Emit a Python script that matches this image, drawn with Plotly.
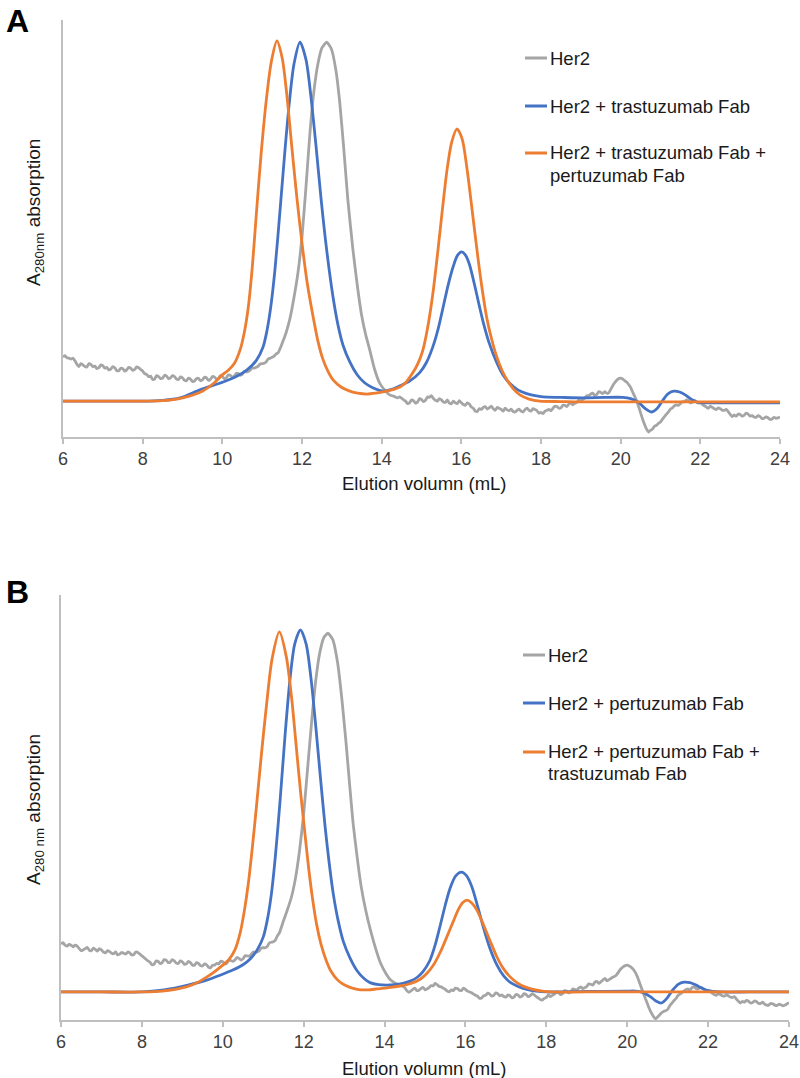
import plotly.graph_objects as go

# ---------------- data ----------------
X_TICKS = [6, 8, 10, 12, 14, 16, 18, 20, 22, 24]
X_TITLE = "Elution volumn (mL)"
Y_TITLE_A = "A<sub>280nm</sub> absorption"
Y_TITLE_B = "A<sub>280 nm</sub> absorption"

NAMES_A = ["Her2", "Her2 + trastuzumab Fab", "Her2 + trastuzumab Fab +", "pertuzumab Fab"]
NAMES_B = ["Her2", "Her2 + pertuzumab Fab", "Her2 + pertuzumab Fab +", "trastuzumab Fab"]

# Panel A ---------------------------------------------------------
gray_a = [(6.0, 19.2), (6.05, 19.5), (6.1, 19.0), (6.15, 18.9), (6.2, 18.7), (6.25, 18.9), (6.3, 18.3),
          (6.35, 17.4), (6.4, 16.9), (6.45, 17.6), (6.5, 17.3), (6.55, 16.9), (6.6, 16.8), (6.65, 17.6),
          (6.7, 17.4), (6.75, 16.9), (6.8, 17.0), (6.85, 16.4), (6.9, 16.6), (6.95, 17.3), (7.0, 17.1),
          (7.05, 16.5), (7.1, 16.7), (7.15, 16.1), (7.2, 16.3), (7.25, 16.9), (7.3, 16.6), (7.35, 15.9),
          (7.4, 15.9), (7.45, 16.5), (7.5, 16.4), (7.55, 15.8), (7.6, 16.1), (7.65, 16.7), (7.7, 16.5),
          (7.75, 16.0), (7.8, 16.2), (7.85, 16.8), (7.9, 16.6), (7.95, 16.2), (8.0, 15.8), (8.05, 15.2),
          (8.1, 15.0), (8.15, 14.5), (8.2, 14.6), (8.25, 13.8), (8.3, 13.9), (8.35, 14.7), (8.4, 14.5),
          (8.45, 14.0), (8.5, 14.1), (8.55, 14.8), (8.6, 14.6), (8.65, 14.0), (8.7, 14.2), (8.75, 14.7),
          (8.8, 14.5), (8.85, 13.9), (8.9, 13.8), (8.95, 14.4), (9.0, 14.2), (9.05, 13.6), (9.1, 13.5),
          (9.15, 14.1), (9.2, 13.9), (9.25, 13.3), (9.3, 13.4), (9.35, 14.0), (9.4, 14.1), (9.45, 13.5),
          (9.5, 13.7), (9.55, 14.3), (9.6, 14.2), (9.65, 13.6), (9.7, 13.8), (9.75, 14.5), (9.8, 14.4),
          (9.85, 13.9), (9.9, 14.0), (9.95, 14.7), (10.0, 14.5), (10.05, 14.0), (10.1, 14.2),
          (10.15, 14.9), (10.2, 14.8), (10.25, 14.3), (10.3, 14.6), (10.35, 15.3), (10.4, 15.2),
          (10.45, 14.8), (10.5, 15.0), (10.55, 15.7), (10.6, 15.6), (10.65, 15.7), (10.7, 16.0),
          (10.75, 16.6), (10.8, 16.5), (10.85, 16.7), (10.9, 17.0), (10.95, 17.5), (11.0, 17.6),
          (11.05, 17.7), (11.1, 18.0), (11.15, 18.7), (11.2, 18.9), (11.25, 19.1), (11.3, 19.4),
          (11.35, 19.9), (11.4, 20.2), (11.5, 22.4), (11.6, 25.0), (11.7, 28.5), (11.8, 33.5),
          (11.9, 39.5), (12.0, 48.0), (12.1, 60.0), (12.2, 73.0), (12.3, 83.0), (12.4, 89.5),
          (12.5, 93.3), (12.62, 94.7), (12.74, 93.0), (12.85, 88.0), (12.95, 80.0), (13.05, 69.0),
          (13.15, 57.0), (13.28, 44.8), (13.4, 35.5), (13.5, 29.0), (13.6, 24.5), (13.7, 20.9),
          (13.82, 16.3), (13.95, 12.9), (14.08, 11.2), (14.2, 10.1), (14.3, 9.8), (14.4, 9.4),
          (14.45, 9.6), (14.5, 9.3), (14.55, 8.9), (14.6, 8.6), (14.65, 8.0), (14.7, 8.2), (14.75, 8.9),
          (14.8, 8.7), (14.85, 8.1), (14.9, 8.4), (14.95, 9.2), (15.0, 9.0), (15.05, 8.5), (15.1, 8.8),
          (15.15, 9.6), (15.2, 9.5), (15.25, 9.9), (15.3, 9.2), (15.35, 8.8), (15.4, 8.6), (15.45, 9.2),
          (15.5, 8.9), (15.55, 8.4), (15.6, 8.3), (15.65, 8.9), (15.7, 8.1), (15.75, 8.0), (15.8, 8.6),
          (15.85, 8.2), (15.9, 8.0), (15.95, 8.7), (16.0, 8.2), (16.05, 7.8), (16.1, 7.6), (16.15, 8.2),
          (16.2, 7.9), (16.25, 7.2), (16.3, 6.9), (16.35, 6.2), (16.4, 6.1), (16.45, 6.8), (16.5, 6.6),
          (16.55, 7.1), (16.6, 7.3), (16.65, 6.7), (16.7, 7.0), (16.75, 7.4), (16.8, 6.8), (16.85, 6.4),
          (16.9, 7.1), (16.95, 6.9), (17.0, 6.6), (17.05, 6.2), (17.1, 6.9), (17.15, 6.5), (17.2, 6.3),
          (17.25, 6.7), (17.3, 6.1), (17.35, 6.0), (17.4, 6.4), (17.45, 6.7), (17.5, 6.2), (17.55, 6.0),
          (17.6, 6.6), (17.65, 6.9), (17.7, 6.4), (17.75, 6.2), (17.8, 6.8), (17.85, 6.6), (17.9, 6.3),
          (17.95, 5.7), (18.0, 5.9), (18.05, 5.6), (18.1, 6.2), (18.15, 6.4), (18.2, 6.6), (18.25, 6.3),
          (18.3, 6.9), (18.35, 7.4), (18.4, 7.3), (18.45, 6.9), (18.5, 7.0), (18.55, 7.6), (18.6, 7.6),
          (18.65, 7.3), (18.7, 7.9), (18.75, 8.2), (18.8, 7.7), (18.85, 8.1), (18.9, 8.3), (18.95, 8.9),
          (19.0, 8.6), (19.05, 9.0), (19.1, 9.3), (19.15, 9.9), (19.2, 9.9), (19.25, 10.3), (19.3, 10.5),
          (19.35, 10.0), (19.4, 10.2), (19.45, 10.9), (19.5, 10.7), (19.55, 10.4), (19.6, 10.9),
          (19.65, 10.5), (19.7, 10.6), (19.75, 11.4), (19.8, 12.3), (19.85, 13.0), (19.9, 13.6),
          (19.95, 14.0), (20.0, 14.1), (20.05, 13.9), (20.1, 13.5), (20.15, 13.2), (20.2, 12.6),
          (20.25, 11.9), (20.3, 10.8), (20.35, 9.8), (20.4, 8.7), (20.45, 7.3), (20.5, 5.8), (20.55, 4.3),
          (20.6, 3.0), (20.65, 1.9), (20.7, 1.2), (20.75, 1.6), (20.8, 1.9), (20.85, 2.6), (20.9, 2.8),
          (20.95, 3.3), (21.0, 3.6), (21.05, 4.3), (21.1, 4.9), (21.15, 5.5), (21.2, 6.0), (21.25, 6.7),
          (21.3, 7.0), (21.35, 7.5), (21.4, 7.7), (21.45, 7.6), (21.5, 8.0), (21.55, 8.5), (21.6, 8.4),
          (21.65, 8.9), (21.7, 8.7), (21.75, 8.2), (21.8, 8.3), (21.85, 8.8), (21.9, 8.5), (21.95, 8.1),
          (22.0, 8.2), (22.05, 7.8), (22.1, 7.5), (22.15, 7.2), (22.2, 6.9), (22.25, 7.4), (22.3, 7.1),
          (22.35, 6.8), (22.4, 6.6), (22.45, 7.0), (22.5, 6.8), (22.55, 6.4), (22.6, 6.4), (22.65, 6.6),
          (22.7, 6.1), (22.75, 5.4), (22.8, 4.9), (22.85, 5.3), (22.9, 5.0), (22.95, 5.5), (23.0, 5.4),
          (23.05, 5.0), (23.1, 5.2), (23.15, 5.7), (23.2, 5.5), (23.25, 5.0), (23.3, 5.1), (23.35, 4.8),
          (23.4, 4.7), (23.45, 5.1), (23.5, 4.9), (23.55, 4.4), (23.6, 4.5), (23.65, 4.8), (23.7, 4.6),
          (23.75, 4.2), (23.8, 4.3), (23.85, 4.7), (23.9, 4.5), (23.95, 4.6), (24.0, 4.8)]

blue_a = [(6.0, 8.6), (7.0, 8.6), (8.0, 8.6), (8.5, 8.8), (8.94, 9.4), (9.44, 11.3), (10.02, 13.2),
          (10.35, 14.5), (10.62, 16.1), (10.85, 18.3), (11.02, 21.5), (11.12, 25.5), (11.22, 31.5),
          (11.32, 40.0), (11.45, 54.5), (11.57, 68.5), (11.68, 80.0), (11.8, 89.5), (11.95, 94.7),
          (12.1, 90.5), (12.22, 82.0), (12.35, 70.0), (12.48, 57.0), (12.62, 44.8), (12.78, 33.5),
          (12.9, 27.0), (13.03, 22.0), (13.2, 18.0), (13.38, 15.0), (13.55, 13.2), (13.7, 12.2),
          (13.85, 11.5), (14.03, 11.0), (14.25, 11.4), (14.46, 12.3), (14.7, 13.4), (14.96, 15.5),
          (15.12, 17.8), (15.28, 21.5), (15.42, 26.0), (15.54, 31.0), (15.67, 36.5), (15.8, 41.0),
          (15.9, 43.5), (16.0, 44.4), (16.1, 43.7), (16.2, 41.5), (16.32, 37.0), (16.45, 31.5),
          (16.55, 27.5), (16.7, 22.5), (16.89, 17.8), (17.05, 14.8), (17.22, 12.8), (17.42, 11.3),
          (17.64, 10.4), (17.85, 9.9), (18.05, 9.6), (18.5, 9.5), (19.05, 9.4), (19.6, 9.5),
          (20.05, 9.5), (20.25, 9.2), (20.45, 8.3), (20.62, 6.8), (20.78, 6.0), (20.92, 6.9),
          (21.05, 8.7), (21.18, 10.3), (21.33, 11.0), (21.48, 10.8), (21.62, 10.1), (21.76, 9.1),
          (21.9, 8.4), (22.1, 8.2), (22.4, 8.2), (23.0, 8.2), (24.0, 8.2)]

orange_a = [(6.0, 8.6), (7.0, 8.6), (8.0, 8.6), (8.5, 8.7), (9.0, 9.4), (9.5, 11.0), (9.8, 13.0),
            (10.0, 14.9), (10.15, 16.0), (10.3, 17.6), (10.45, 21.0), (10.55, 25.0), (10.65, 31.0),
            (10.75, 40.5), (10.85, 53.0), (10.97, 67.5), (11.1, 80.5), (11.23, 90.0), (11.37, 95.0),
            (11.5, 91.0), (11.62, 82.0), (11.74, 70.0), (11.87, 57.5), (12.0, 46.5), (12.13, 37.0),
            (12.28, 28.8), (12.4, 23.0), (12.52, 18.8), (12.65, 15.8), (12.78, 13.7), (12.98, 12.0),
            (13.2, 11.0), (13.4, 10.5), (13.63, 10.3), (13.85, 10.5), (14.03, 10.8), (14.25, 11.3),
            (14.46, 12.0), (14.6, 13.0), (14.71, 14.4), (14.85, 16.5), (14.95, 18.5), (15.04, 21.0),
            (15.15, 26.0), (15.28, 34.0), (15.41, 44.5), (15.53, 55.0), (15.64, 64.0), (15.76, 70.8),
            (15.89, 73.9), (16.02, 71.5), (16.14, 64.5), (16.27, 54.5), (16.41, 43.5), (16.53, 35.0),
            (16.64, 28.5), (16.76, 23.5), (16.89, 19.2), (17.02, 16.0), (17.14, 13.8), (17.3, 11.6),
            (17.47, 10.1), (17.7, 9.1), (17.97, 8.6), (18.5, 8.5), (19.0, 8.4), (24.0, 8.4)]

# Panel B ---------------------------------------------------------
gray_b = [(6.0, 17.9), (6.05, 18.2), (6.1, 17.6), (6.15, 17.4), (6.2, 17.8), (6.25, 17.6), (6.3, 17.2),
          (6.35, 17.6), (6.4, 17.4), (6.45, 16.8), (6.5, 16.3), (6.55, 16.5), (6.6, 16.8), (6.65, 17.1),
          (6.7, 16.4), (6.75, 16.3), (6.8, 16.9), (6.85, 16.6), (6.9, 16.2), (6.95, 16.8), (7.0, 16.5),
          (7.05, 16.0), (7.1, 15.8), (7.15, 16.3), (7.2, 16.1), (7.25, 15.7), (7.3, 15.6), (7.35, 16.0),
          (7.4, 15.3), (7.45, 15.5), (7.5, 15.9), (7.55, 15.7), (7.6, 15.5), (7.65, 16.0), (7.7, 15.8),
          (7.75, 15.3), (7.8, 15.4), (7.85, 16.0), (7.9, 15.9), (7.95, 15.5), (8.0, 15.1), (8.05, 14.7),
          (8.1, 14.3), (8.15, 13.9), (8.2, 13.6), (8.25, 13.0), (8.3, 13.1), (8.35, 13.9), (8.4, 13.8),
          (8.45, 13.3), (8.5, 13.5), (8.55, 14.2), (8.6, 14.1), (8.65, 13.5), (8.7, 13.6), (8.75, 14.2),
          (8.8, 13.9), (8.85, 13.4), (8.9, 13.3), (8.95, 13.9), (9.0, 13.7), (9.05, 13.1), (9.1, 13.2),
          (9.15, 13.8), (9.2, 13.5), (9.25, 12.9), (9.3, 12.9), (9.35, 13.5), (9.4, 13.3), (9.45, 12.8),
          (9.5, 12.7), (9.55, 13.2), (9.6, 13.0), (9.65, 12.4), (9.7, 12.3), (9.75, 12.9), (9.8, 12.9),
          (9.85, 13.3), (9.9, 13.2), (9.95, 13.8), (10.0, 13.7), (10.05, 13.2), (10.1, 13.4),
          (10.15, 14.1), (10.2, 14.0), (10.25, 13.8), (10.3, 14.1), (10.35, 14.7), (10.4, 14.5),
          (10.45, 14.1), (10.5, 14.4), (10.55, 15.1), (10.6, 15.1), (10.65, 15.0), (10.7, 15.4),
          (10.75, 16.0), (10.8, 15.9), (10.85, 16.0), (10.9, 16.3), (10.95, 16.9), (11.0, 17.0),
          (11.05, 17.0), (11.1, 17.3), (11.15, 18.1), (11.2, 18.3), (11.25, 18.4), (11.3, 18.8),
          (11.35, 19.8), (11.4, 20.5), (11.5, 23.3), (11.6, 26.0), (11.7, 29.0), (11.8, 33.5),
          (11.9, 40.0), (12.0, 48.5), (12.1, 59.5), (12.2, 70.5), (12.3, 80.0), (12.4, 86.5),
          (12.5, 90.0), (12.6, 91.0), (12.72, 89.5), (12.84, 84.0), (12.95, 75.0), (13.05, 65.0),
          (13.14, 55.0), (13.22, 46.5), (13.32, 38.5), (13.42, 31.5), (13.53, 26.0), (13.65, 21.2),
          (13.78, 16.8), (13.9, 13.4), (14.03, 11.0), (14.15, 9.4), (14.28, 8.6), (14.4, 8.2),
          (14.45, 7.9), (14.5, 7.6), (14.55, 6.9), (14.6, 6.5), (14.65, 6.8), (14.7, 7.2), (14.75, 7.5),
          (14.8, 6.9), (14.85, 7.0), (14.9, 7.4), (14.95, 7.7), (15.0, 7.1), (15.05, 7.3), (15.1, 7.6),
          (15.15, 8.1), (15.2, 8.0), (15.25, 8.6), (15.3, 8.3), (15.35, 7.9), (15.4, 7.8), (15.45, 7.5),
          (15.5, 7.2), (15.55, 6.8), (15.6, 6.6), (15.65, 7.1), (15.7, 6.9), (15.75, 7.5), (15.8, 7.4),
          (15.85, 7.0), (15.9, 6.9), (15.95, 7.5), (16.0, 7.2), (16.05, 6.8), (16.1, 6.6), (16.15, 6.4),
          (16.2, 6.1), (16.25, 5.8), (16.3, 5.6), (16.35, 5.1), (16.4, 5.2), (16.45, 5.7), (16.5, 5.8),
          (16.55, 6.3), (16.6, 6.1), (16.65, 5.6), (16.7, 5.8), (16.75, 6.4), (16.8, 6.2), (16.85, 5.7),
          (16.9, 5.9), (16.95, 5.5), (17.0, 5.4), (17.05, 5.9), (17.1, 5.7), (17.15, 5.2), (17.2, 5.4),
          (17.25, 6.0), (17.3, 5.9), (17.35, 5.4), (17.4, 5.6), (17.45, 6.2), (17.5, 6.0), (17.55, 5.5),
          (17.6, 5.7), (17.65, 6.2), (17.7, 5.9), (17.75, 5.5), (17.8, 5.2), (17.85, 4.8), (17.9, 4.7),
          (17.95, 5.1), (18.0, 5.3), (18.05, 5.9), (18.1, 5.5), (18.15, 5.8), (18.2, 6.1), (18.25, 6.6),
          (18.3, 6.4), (18.35, 6.0), (18.4, 6.2), (18.45, 6.9), (18.5, 6.8), (18.55, 6.4), (18.6, 6.6),
          (18.65, 7.3), (18.7, 7.2), (18.75, 7.0), (18.8, 7.5), (18.85, 7.8), (18.9, 7.4), (18.95, 7.6),
          (19.0, 7.9), (19.05, 8.5), (19.1, 8.4), (19.15, 8.2), (19.2, 8.9), (19.25, 9.1), (19.3, 8.6),
          (19.35, 9.0), (19.4, 9.4), (19.45, 9.8), (19.5, 9.2), (19.55, 9.5), (19.6, 9.8), (19.65, 10.1),
          (19.7, 10.3), (19.75, 10.8), (19.8, 11.5), (19.85, 12.1), (19.9, 12.5), (19.95, 12.8),
          (20.0, 12.9), (20.05, 12.7), (20.1, 12.4), (20.15, 11.9), (20.2, 11.2), (20.25, 10.2),
          (20.3, 8.9), (20.35, 7.6), (20.4, 6.3), (20.45, 5.0), (20.5, 3.8), (20.55, 2.6), (20.6, 1.6),
          (20.65, 0.8), (20.7, 0.3), (20.75, 0.7), (20.8, 1.2), (20.85, 1.7), (20.9, 2.0), (20.95, 2.2),
          (21.0, 2.5), (21.05, 3.3), (21.1, 3.9), (21.15, 4.5), (21.2, 5.0), (21.25, 5.7), (21.3, 6.1),
          (21.35, 6.4), (21.4, 6.8), (21.45, 7.1), (21.5, 7.3), (21.55, 7.0), (21.6, 7.6), (21.65, 7.8),
          (21.7, 7.4), (21.75, 7.3), (21.8, 7.7), (21.85, 7.5), (21.9, 7.2), (21.95, 7.0), (22.0, 6.9),
          (22.05, 6.7), (22.1, 6.3), (22.15, 6.0), (22.2, 5.8), (22.25, 6.2), (22.3, 6.0), (22.35, 5.7),
          (22.4, 5.6), (22.45, 5.9), (22.5, 5.7), (22.55, 5.4), (22.6, 5.3), (22.65, 5.5), (22.7, 4.9),
          (22.75, 4.4), (22.8, 4.0), (22.85, 4.4), (22.9, 4.2), (22.95, 4.6), (23.0, 4.4), (23.05, 4.0),
          (23.1, 4.1), (23.15, 4.5), (23.2, 4.3), (23.25, 3.9), (23.3, 3.9), (23.35, 4.2), (23.4, 3.7),
          (23.45, 3.5), (23.5, 3.5), (23.55, 3.9), (23.6, 3.8), (23.65, 3.5), (23.7, 3.4), (23.75, 3.7),
          (23.8, 3.6), (23.85, 3.3), (23.9, 3.5), (23.95, 3.8), (24.0, 4.1)]

blue_b = [(6.0, 6.6), (7.0, 6.6), (8.0, 6.6), (8.5, 7.0), (8.95, 7.8), (9.3, 8.6), (9.6, 9.4),
          (9.95, 10.6), (10.26, 11.8), (10.5, 13.0), (10.67, 14.3), (10.85, 16.5), (11.0, 19.5),
          (11.1, 23.5), (11.2, 29.5), (11.3, 38.5), (11.42, 52.0), (11.54, 67.0), (11.66, 80.0),
          (11.78, 88.5), (11.92, 91.8), (12.06, 88.5), (12.18, 80.5), (12.3, 69.0), (12.42, 56.5),
          (12.53, 45.5), (12.63, 37.0), (12.73, 29.8), (12.85, 23.5), (12.98, 18.5), (13.15, 14.5),
          (13.32, 11.6), (13.5, 9.7), (13.64, 8.8), (13.85, 8.3), (14.06, 8.2), (14.25, 8.3),
          (14.45, 8.6), (14.65, 9.2), (14.8, 10.0), (14.95, 11.4), (15.12, 14.0), (15.25, 17.6),
          (15.37, 22.0), (15.5, 27.0), (15.62, 31.0), (15.76, 33.9), (15.9, 34.8), (16.03, 33.9),
          (16.16, 31.3), (16.3, 26.8), (16.44, 21.9), (16.6, 17.0), (16.78, 12.9), (16.95, 10.3),
          (17.1, 8.9), (17.3, 7.9), (17.52, 7.2), (17.75, 6.8), (18.0, 6.6), (19.0, 6.7), (20.0, 6.8),
          (20.2, 6.8), (20.38, 6.5), (20.57, 5.5), (20.72, 4.4), (20.85, 4.0), (20.98, 5.1),
          (21.12, 7.0), (21.26, 8.4), (21.4, 8.9), (21.55, 8.8), (21.7, 8.2), (21.85, 7.5),
          (22.0, 6.9), (22.3, 6.6), (23.0, 6.6), (24.0, 6.6)]

orange_b = [(6.0, 6.6), (7.0, 6.6), (8.0, 6.6), (8.5, 6.8), (9.1, 7.8), (9.35, 8.7), (9.6, 10.1),
            (9.8, 11.4), (10.0, 12.9), (10.15, 14.2), (10.3, 16.5), (10.43, 20.5), (10.53, 25.5),
            (10.63, 32.0), (10.73, 40.5), (10.83, 50.0), (10.95, 62.0), (11.08, 74.0), (11.22, 85.0),
            (11.4, 91.3), (11.57, 85.5), (11.7, 76.0), (11.82, 64.0), (11.93, 53.0), (12.03, 44.0),
            (12.12, 36.0), (12.22, 28.5), (12.32, 22.5), (12.43, 17.8), (12.55, 14.2), (12.68, 11.4),
            (12.83, 9.5), (12.98, 8.4), (13.2, 7.5), (13.4, 7.1), (13.6, 7.1), (13.81, 7.3), (14.1, 7.6),
            (14.38, 8.0), (14.65, 8.6), (14.88, 9.6), (15.05, 11.0), (15.2, 12.8), (15.38, 16.0),
            (15.55, 19.8), (15.7, 23.2), (15.82, 25.9), (15.93, 27.6), (16.04, 28.2), (16.15, 27.6),
            (16.28, 25.9), (16.45, 22.3), (16.61, 18.6), (16.77, 15.0), (16.93, 12.2), (17.1, 10.2),
            (17.27, 8.8), (17.47, 7.8), (17.67, 7.2), (17.9, 6.8), (18.1, 6.6), (19.0, 6.6), (24.0, 6.6)]

# ---------------- styling ----------------
W, H = 800, 1078
GRAY, BLUE, ORANGE = "#A5A5A5", "#4472C4", "#ED7D31"
AXIS_COLOR = "#BFBFBF"
FONT = "Arial, Liberation Sans, sans-serif"


def px_x(p):
    return p / W


def px_y(p):
    return 1 - p / H


fig = go.Figure()

panels = [
    ("x", "y", [(gray_a, GRAY, 0.5), (blue_a, BLUE, 0.8), (orange_a, ORANGE, 0.8)]),
    ("x2", "y2", [(gray_b, GRAY, 0.5), (blue_b, BLUE, 0.8), (orange_b, ORANGE, 0.8)]),
]
for xa, ya, series in panels:
    for pts, col, sm in series:
        fig.add_trace(go.Scatter(
            x=[p[0] for p in pts], y=[p[1] for p in pts], mode="lines",
            line=dict(color=col, width=2.8, shape="spline", smoothing=sm),
            xaxis=xa, yaxis=ya, showlegend=False, hoverinfo="skip"))

xaxis_common = dict(range=[6, 24], tickvals=X_TICKS, ticktext=[str(t) for t in X_TICKS],
                    showline=True, linecolor=AXIS_COLOR, linewidth=1.5, ticks="outside",
                    ticklen=5, tickwidth=1.5, tickcolor=AXIS_COLOR, showgrid=False, zeroline=False,
                    tickfont=dict(family=FONT, size=18, color="#404040"), fixedrange=True,
                    automargin=False)
yaxis_common = dict(range=[0, 100], showline=True, linecolor=AXIS_COLOR, linewidth=1.5,
                    ticks="", showticklabels=False, showgrid=False, zeroline=False, fixedrange=True,
                    automargin=False)

fig.update_layout(
    width=W, height=H, margin=dict(l=0, r=0, t=0, b=0, autoexpand=False),
    paper_bgcolor="white", plot_bgcolor="white",
    xaxis=dict(domain=[px_x(63), px_x(780)], anchor="y", **xaxis_common),
    yaxis=dict(domain=[px_y(437), px_y(20)], anchor="x", **yaxis_common),
    xaxis2=dict(domain=[px_x(61), px_x(789)], anchor="y2", **xaxis_common),
    yaxis2=dict(domain=[px_y(1020), px_y(595)], anchor="x2", **yaxis_common),
)

ann = []
shapes = []
TXT = dict(family=FONT, size=18.5, color="#1a1a1a")
# panel letters
ann.append(dict(text="<b>A</b>", x=px_x(17), y=px_y(21), xref="paper", yref="paper", showarrow=False,
                xanchor="center", yanchor="middle", font=dict(family=FONT, size=32, color="black")))
ann.append(dict(text="<b>B</b>", x=px_x(17), y=px_y(592), xref="paper", yref="paper", showarrow=False,
                xanchor="center", yanchor="middle", font=dict(family=FONT, size=32, color="black")))
# x titles
for yy in (483, 1068):
    ann.append(dict(text=X_TITLE, x=px_x(424), y=px_y(yy), xref="paper", yref="paper", showarrow=False,
                    xanchor="center", yanchor="middle", font=TXT))
# y titles
ann.append(dict(text=Y_TITLE_A, x=px_x(35), y=px_y(213), xref="paper", yref="paper", showarrow=False,
                xanchor="center", yanchor="middle", textangle=-90,
                font=dict(family=FONT, size=19, color="#1a1a1a")))
ann.append(dict(text=Y_TITLE_B, x=px_x(35), y=px_y(810), xref="paper", yref="paper", showarrow=False,
                xanchor="center", yanchor="middle", textangle=-90,
                font=dict(family=FONT, size=19, color="#1a1a1a")))

# legends
legends = [
    (525, 548, [58, 106, 153], 175, NAMES_A),
    (523, 546, [655, 703, 752], 773, NAMES_B),
]
for lx0, tx, ys, y_extra, names in legends:
    for yy, col, name in zip(ys, [GRAY, BLUE, ORANGE], names[:3]):
        shapes.append(dict(type="line", xref="paper", yref="paper", x0=px_x(lx0), x1=px_x(tx - 1),
                           y0=px_y(yy), y1=px_y(yy), line=dict(color=col, width=3)))
        ann.append(dict(text=name, x=px_x(tx), y=px_y(yy), xref="paper", yref="paper", showarrow=False,
                        xanchor="left", yanchor="middle", font=TXT))
    ann.append(dict(text=names[3], x=px_x(tx), y=px_y(y_extra), xref="paper", yref="paper",
                    showarrow=False, xanchor="left", yanchor="middle", font=TXT))

fig.update_layout(annotations=ann, shapes=shapes)
fig.write_html(
    "out.html", config={"responsive": False, "displayModeBar": False},
    post_script="document.body.style.margin='0';document.body.style.padding='0';")
